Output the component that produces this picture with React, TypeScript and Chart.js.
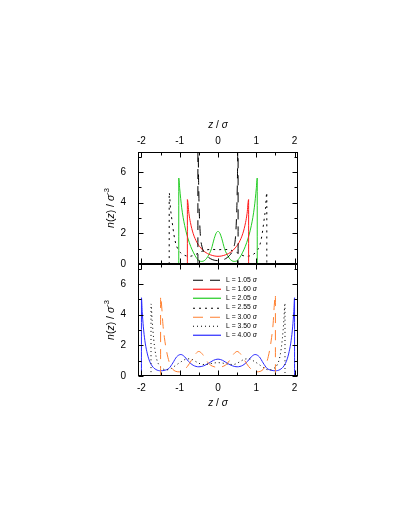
import React, { useEffect, useRef } from "react";
import { Chart, registerables } from "chart.js";
Chart.register(...registerables);

// ---- axes ----
const X_MIN = -2.09;
const X_MAX = 2.09;
const Y_MIN = 0;
const Y_MAX = 7.3;
const xTickLabels = [-2, -1, 0, 1, 2];
const xMinorTicks = [-1.5, -0.5, 0.5, 1.5];
const yTickLabels = [0, 2, 4, 6];
const yMinorTicks = [1, 3, 5, 7];

// ---- series (z / sigma, n(z) / sigma^-3) ----
const z105 = [-0.525, -0.525, -0.515, -0.5, -0.48, -0.455, -0.42, -0.37, -0.3, -0.2, -0.1, 0, 0.1, 0.2, 0.3, 0.37, 0.42, 0.455, 0.48, 0.5, 0.515, 0.525, 0.525];
const n105 = [0, 14, 7.5, 4.5, 2.8, 1.7, 1.15, 0.8, 0.55, 0.35, 0.25, 0.22, 0.25, 0.35, 0.55, 0.8, 1.15, 1.7, 2.8, 4.5, 7.5, 14, 0];

const z160 = [-0.8, -0.8, -0.76, -0.72, -0.65, -0.55, -0.45, -0.35, -0.2, 0, 0.2, 0.35, 0.45, 0.55, 0.65, 0.72, 0.76, 0.8, 0.8];
const n160 = [0, 4.2, 3.3, 2.7, 2.0, 1.4, 1.05, 0.8, 0.6, 0.5, 0.6, 0.8, 1.05, 1.4, 2.0, 2.7, 3.3, 4.2, 0];

const z205 = [-1.025, -1.025, -1.0, -0.95, -0.87, -0.75, -0.6, -0.5, -0.42, -0.32, -0.22, -0.17, -0.1, -0.04, 0, 0.04, 0.1, 0.17, 0.22, 0.32, 0.42, 0.5, 0.6, 0.75, 0.87, 0.95, 1.0, 1.025, 1.025];
const n205 = [0, 5.6, 4.9, 3.7, 2.5, 1.4, 0.55, 0.22, 0.17, 0.3, 0.7, 1.0, 1.65, 2.05, 2.12, 2.05, 1.65, 1.0, 0.7, 0.3, 0.17, 0.22, 0.55, 1.4, 2.5, 3.7, 4.9, 5.6, 0];

const z255 = [-1.275, -1.275, -1.24, -1.2, -1.15, -1.1, -1.0, -0.9, -0.75, -0.6, -0.45, -0.3, -0.15, 0, 0.15, 0.3, 0.45, 0.6, 0.75, 0.9, 1.0, 1.1, 1.15, 1.2, 1.24, 1.275, 1.275];
const n255 = [0, 4.65, 3.6, 2.8, 1.9, 1.3, 0.8, 0.6, 0.5, 0.6, 0.8, 0.92, 0.95, 0.93, 0.95, 0.92, 0.8, 0.6, 0.5, 0.6, 0.8, 1.3, 1.9, 2.8, 3.6, 4.65, 0];

const z300 = [-1.5, -1.5, -1.47, -1.44, -1.4, -1.35, -1.28, -1.2, -1.1, -1.0, -0.9, -0.8, -0.7, -0.6, -0.5, -0.4, -0.3, -0.2, -0.1, 0, 0.1, 0.2, 0.3, 0.4, 0.5, 0.6, 0.7, 0.8, 0.9, 1.0, 1.1, 1.2, 1.28, 1.35, 1.4, 1.44, 1.47, 1.5, 1.5];
const n300 = [0, 5.2, 4.5, 3.4, 2.5, 1.7, 0.95, 0.5, 0.3, 0.27, 0.38, 0.62, 1.0, 1.4, 1.6, 1.4, 1.0, 0.72, 0.6, 0.57, 0.6, 0.72, 1.0, 1.4, 1.6, 1.4, 1.0, 0.62, 0.38, 0.27, 0.3, 0.5, 0.95, 1.7, 2.5, 3.4, 4.6, 5.3, 0];

const z350 = [-1.75, -1.75, -1.72, -1.68, -1.62, -1.55, -1.45, -1.35, -1.25, -1.1, -0.95, -0.8, -0.7, -0.55, -0.4, -0.25, -0.1, 0, 0.1, 0.25, 0.4, 0.55, 0.7, 0.8, 0.95, 1.1, 1.25, 1.35, 1.45, 1.55, 1.62, 1.68, 1.72, 1.75, 1.75];
const n350 = [0, 4.7, 3.6, 2.4, 1.3, 0.75, 0.48, 0.4, 0.45, 0.7, 0.95, 1.12, 1.1, 0.9, 0.75, 0.78, 0.85, 0.87, 0.85, 0.78, 0.75, 0.9, 1.1, 1.12, 0.95, 0.7, 0.45, 0.4, 0.48, 0.75, 1.3, 2.4, 3.6, 4.75, 0];

const z400 = [-2, -2, -1.98, -1.95, -1.91, -1.86, -1.8, -1.72, -1.62, -1.5, -1.38, -1.28, -1.18, -1.08, -0.97, -0.87, -0.77, -0.65, -0.5, -0.38, -0.25, -0.12, 0, 0.12, 0.25, 0.38, 0.5, 0.65, 0.77, 0.87, 0.97, 1.08, 1.18, 1.28, 1.38, 1.5, 1.62, 1.72, 1.8, 1.86, 1.91, 1.95, 1.98, 2, 2];
const n400 = [0, 5.1, 4.2, 3.2, 2.3, 1.6, 1.05, 0.65, 0.42, 0.34, 0.38, 0.5, 0.85, 1.25, 1.4, 1.25, 0.95, 0.7, 0.6, 0.66, 0.82, 1.02, 1.1, 1.02, 0.82, 0.66, 0.6, 0.7, 0.95, 1.25, 1.4, 1.25, 0.85, 0.5, 0.38, 0.34, 0.42, 0.65, 1.05, 1.6, 2.3, 3.2, 4.2, 5.1, 0];

const legendLabels = ["L = 1.05 ", "L = 1.60 ", "L = 2.05 ", "L = 2.55 ", "L = 3.00 ", "L = 3.50 ", "L = 4.00 "];

// ---- styles ----
const styles = [
  { color: "#000000", dash: [10, 7] },
  { color: "#ff1a1a", dash: [] as number[] },
  { color: "#22cc22", dash: [] as number[] },
  { color: "#000000", dash: [2, 4] },
  { color: "#ff8030", dash: [10, 7] },
  { color: "#000000", dash: [1, 3] },
  { color: "#2a2aff", dash: [] as number[] },
];

const seriesZ = [z105, z160, z205, z255, z300, z350, z400];
const seriesN = [n105, n160, n205, n255, n300, n350, n400];

const FONT = '"Liberation Sans", Arial, sans-serif';
const W = 409;
const H = 529;
const AREA_LEFT = 138;
const AREA_RIGHT = 298;

type Part = { t: string; i?: boolean; sup?: boolean };

function partFont(p: Part, size: number) {
  const s = p.sup ? size * 0.72 : size;
  return `${p.i ? "italic " : ""}${s}px ${FONT}`;
}

function drawRich(ctx: CanvasRenderingContext2D, parts: Part[], x: number, y: number, size: number, align: "left" | "center") {
  let total = 0;
  for (const p of parts) {
    ctx.font = partFont(p, size);
    total += ctx.measureText(p.t).width;
  }
  let cx = align === "center" ? x - total / 2 : x;
  ctx.textAlign = "left";
  ctx.textBaseline = "middle";
  for (const p of parts) {
    ctx.font = partFont(p, size);
    ctx.fillText(p.t, cx, p.sup ? y - size * 0.38 : y);
    cx += ctx.measureText(p.t).width;
  }
}

function makeDatasets(idx: number[]) {
  return idx.map((k) => ({
    label: legendLabels[k],
    data: seriesZ[k].map((z, j) => ({ x: z, y: seriesN[k][j] })),
    borderColor: styles[k].color,
    borderDash: styles[k].dash,
    borderWidth: 1,
    pointRadius: 0,
    fill: false,
    cubicInterpolationMode: "monotone" as const,
  }));
}

function makePlugin(panel: "top" | "bottom") {
  return {
    id: "gnuplotFrame" + panel,
    afterDatasetsDraw(chart: any) {
      const ctx: CanvasRenderingContext2D = chart.ctx;
      const xs = chart.scales.x;
      const ys = chart.scales.y;
      const a = chart.chartArea;
      const L = Math.round(a.left) + 0.5;
      const R = Math.round(a.right) - 0.5;
      const T = Math.round(a.top) + 0.5;
      const B = Math.round(a.bottom) - 0.5;
      ctx.save();
      ctx.strokeStyle = "#000";
      ctx.lineWidth = 1;
      ctx.setLineDash([]);
      ctx.strokeRect(L, T, R - L, B - T);
      ctx.beginPath();
      const xt = (v: number, len: number) => {
        const px = Math.round(xs.getPixelForValue(v)) + 0.5;
        ctx.moveTo(px, B); ctx.lineTo(px, B - len);
        ctx.moveTo(px, T); ctx.lineTo(px, T + len);
      };
      xTickLabels.forEach((v) => xt(v, 5));
      xMinorTicks.forEach((v) => xt(v, 3));
      const yt = (v: number, len: number) => {
        const py = Math.round(ys.getPixelForValue(v)) + 0.5;
        ctx.moveTo(L, py); ctx.lineTo(L + len, py);
        ctx.moveTo(R, py); ctx.lineTo(R - len, py);
      };
      yTickLabels.forEach((v) => yt(v, 5));
      yMinorTicks.forEach((v) => yt(v, 3));
      ctx.stroke();

      ctx.fillStyle = "#000";
      ctx.font = `10px ${FONT}`;
      ctx.textAlign = "right";
      ctx.textBaseline = "middle";
      yTickLabels.forEach((v) => ctx.fillText(String(v), 126, ys.getPixelForValue(v)));

      ctx.textAlign = "center";
      const labY = panel === "top" ? 141.5 : 388;
      xTickLabels.forEach((v) => ctx.fillText(String(v), xs.getPixelForValue(v), labY));

      drawRich(ctx, [{ t: "z", i: true }, { t: " / " }, { t: "σ", i: true }], (a.left + a.right) / 2, panel === "top" ? 125 : 403, 10, "center");

      ctx.save();
      ctx.translate(111, (a.top + a.bottom) / 2);
      ctx.rotate(-Math.PI / 2);
      drawRich(ctx, [{ t: "n", i: true }, { t: "(" }, { t: "z", i: true }, { t: ") / " }, { t: "σ", i: true }, { t: "-3", sup: true }], 0, 0, 10.5, "center");
      ctx.restore();

      if (panel === "bottom") {
        legendLabels.forEach((lab, k) => {
          const y = 280 + k * 9.2;
          const py = Math.round(y) + 0.25;
          ctx.save();
          ctx.beginPath();
          ctx.lineWidth = 1.2;
          ctx.strokeStyle = styles[k].color;
          ctx.setLineDash(styles[k].dash);
          ctx.moveTo(193, py);
          ctx.lineTo(221, py);
          ctx.stroke();
          ctx.restore();
          ctx.fillStyle = "#000";
          drawRich(ctx, [{ t: lab }, { t: "σ", i: true }], 226, y, 6.8, "left");
        });
      }
      ctx.restore();
    },
  };
}

function makeConfig(idx: number[], panel: "top" | "bottom", top: number, bottom: number): any {
  return {
    type: "line",
    data: { datasets: makeDatasets(idx) },
    options: {
      animation: false,
      responsive: false,
      maintainAspectRatio: false,
      devicePixelRatio: 1,
      events: [],
      layout: { padding: { left: AREA_LEFT, right: W - AREA_RIGHT, top: top, bottom: H - bottom } },
      plugins: { legend: { display: false }, tooltip: { enabled: false }, title: { display: false } },
      scales: {
        x: { type: "linear", min: X_MIN, max: X_MAX, display: false },
        y: { type: "linear", min: Y_MIN, max: Y_MAX, display: false },
      },
    },
    plugins: [makePlugin(panel)],
  };
}

export default function App() {
  const topRef = useRef<HTMLCanvasElement>(null);
  const botRef = useRef<HTMLCanvasElement>(null);
  useEffect(() => {
    const c1 = new Chart(topRef.current as HTMLCanvasElement, makeConfig([0, 1, 2, 3], "top", 152, 264));
    const c2 = new Chart(botRef.current as HTMLCanvasElement, makeConfig([4, 5, 6], "bottom", 264, 376));
    return () => {
      c1.destroy();
      c2.destroy();
    };
  }, []);
  return (
    <div style={{ position: "absolute", left: 0, top: 0, width: W, height: H, background: "#fff" }}>
      <canvas ref={topRef} width={W} height={H} style={{ position: "absolute", left: 0, top: 0, width: W, height: H }} />
      <canvas ref={botRef} width={W} height={H} style={{ position: "absolute", left: 0, top: 0, width: W, height: H }} />
    </div>
  );
}
